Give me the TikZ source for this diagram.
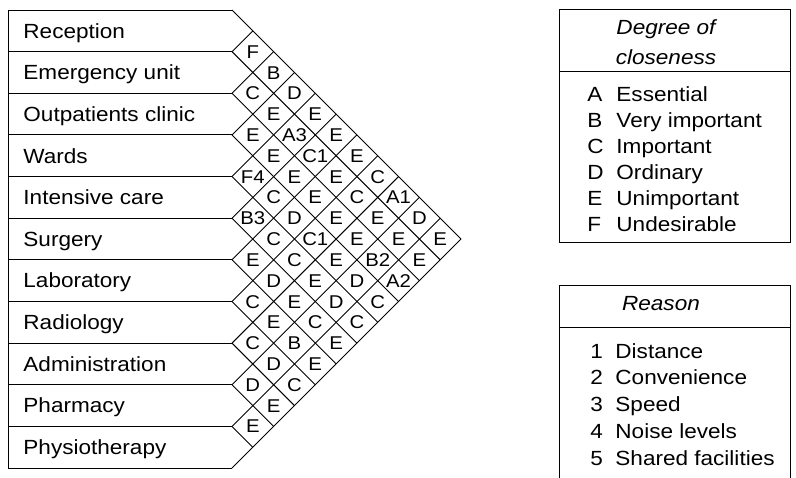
\documentclass[tikz,border=0pt]{standalone}
\usepackage{fontspec}
\setmainfont{Liberation Sans}[FakeStretch=1.1]
\begin{document}
\begin{tikzpicture}[x=1pt,y=-1pt,line width=0.9pt,
  rowtext/.style={anchor=base west,font=\fontsize{20.5}{24}\selectfont,inner sep=0pt},
  cell/.style={anchor=base,font=\fontsize{18.5}{22}\selectfont,inner sep=0pt},
  legtext/.style={anchor=base west,font=\fontsize{20.5}{24}\selectfont,inner sep=0pt},
  leghead/.style={anchor=base,font=\fontsize{20.5}{24}\selectfont\itshape,inner sep=0pt}]
\useasboundingbox (0,0) rectangle (796,478);
\def\cellu{20.82}
\def\xo{232}
\def\ytop{10}
% row boundaries
\foreach \k in {0,...,11}{
  \coordinate (b\k) at (\xo,{\ytop+2*\cellu*\k});
  \coordinate (l\k) at (8,{\ytop+2*\cellu*\k});
  \draw (l\k) -- (b\k);
}
\draw (l0) -- (l11);
% diagonal grid
\foreach \k in {0,...,11}{
  \pgfmathsetmacro\dlen{\cellu*(11-\k)}
  \pgfmathsetmacro\ulen{\cellu*\k}
  \draw (b\k) -- ++(\dlen,\dlen);
  \draw (b\k) -- ++(\ulen,-\ulen);
}
% row labels
\foreach \i/\t in {1/Reception,2/Emergency unit,3/Outpatients clinic,4/Wards,5/Intensive care,6/Surgery,7/Laboratory,8/Radiology,9/Administration,10/Pharmacy,11/Physiotherapy}{
  \node[rowtext] (r\i) at (23,{\ytop+\cellu*(2*\i-1)+7.3}) {\t};
}
% cell letters
\foreach \i/\j/\l in {
 1/2/F,2/3/C,3/4/E,4/5/F4,5/6/B3,6/7/E,7/8/C,8/9/C,9/10/D,10/11/E,
 1/3/B,2/4/E,3/5/E,4/6/C,5/7/C,6/8/D,7/9/E,8/10/D,9/11/E,
 1/4/D,2/5/A3,3/6/E,4/7/D,5/8/C,6/9/E,7/10/B,8/11/C,
 1/5/E,2/6/C1,3/7/E,4/8/C1,5/9/E,6/10/C,7/11/E,
 1/6/E,2/7/E,3/8/E,4/9/E,5/10/D,6/11/E,
 1/7/E,2/8/C,3/9/E,4/10/D,5/11/C,
 1/8/C,2/9/E,3/10/B2,4/11/C,
 1/9/A1,2/10/E,3/11/A2,
 1/10/D,2/11/E,
 1/11/E}{
  \node[cell] (c\i-\j) at ({\xo+\cellu*(\j-\i)},{\ytop+\cellu*(\i+\j-1)+6.6}) {\l};
}
% legend: degree of closeness
\draw (559,9) rectangle (790,242);
\draw (559,71) -- (790,71);
\node[leghead] (h1) at (666,{27+7.3}) {Degree of};
\node[leghead] (h2) at (666,{57+7.3}) {closeness};
\foreach \n/\l/\t in {0/A/Essential,1/B/Very important,2/C/Important,3/D/Ordinary,4/E/Unimportant,5/F/Undesirable}{
  \node[legtext] (dl\n) at (587,{94+26*\n+7.3}) {\l};
  \node[legtext] (dt\n) at (616,{94+26*\n+7.3}) {\t};
}
% legend: reason
\draw (559,478) -- (559,285) -- (790,285) -- (790,478);
\draw (559,327) -- (790,327);
\node[leghead] (h3) at (661,{303+7.3}) {Reason};
\foreach \n/\l/\t in {0/1/Distance,1/2/Convenience,2/3/Speed,3/4/Noise levels,4/5/Shared facilities}{
  \node[legtext] (rl\n) at (590,{351+26.7*\n+7.3}) {\l};
  \node[legtext] (rt\n) at (615,{351+26.7*\n+7.3}) {\t};
}
\end{tikzpicture}
\end{document}
